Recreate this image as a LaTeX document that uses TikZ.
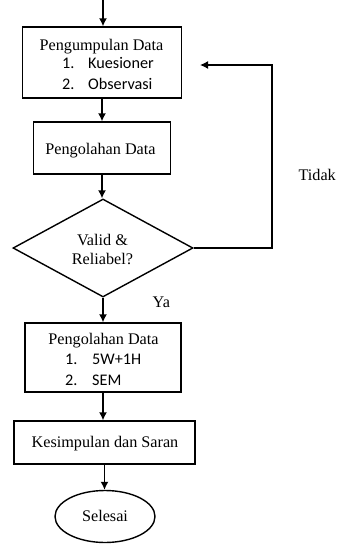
\documentclass[tikz,border=0pt]{standalone}
\usepackage{fontspec}
\setmainfont{Liberation Serif}
\newfontfamily\listfont{Carlito}
\usetikzlibrary{shapes.geometric,arrows.meta}

\begin{document}
\begin{tikzpicture}[x=1pt,y=-1pt,
		every node/.style={font=\fontsize{16.2}{19}\selectfont},
		kotak/.style={draw,line width=1.4pt,inner sep=0pt},
		teks/.style={inner sep=0pt,anchor=base},
		daftar/.style={inner sep=0pt,anchor=base west,font=\fontsize{16.2}{19}\selectfont\listfont},
		panah/.style={line width=1.4pt,-{Latex[length=8pt,width=8pt]}}]
				\useasboundingbox (0,0) rectangle (337,544);

				% kotak-kotak alur
				\node [kotak,minimum width=159pt,minimum height=71pt] (kumpul) at (102,62.5) {};
				\node [kotak,minimum width=137pt,minimum height=52pt] (olah) at (102,148) {};
				\node [kotak,diamond,aspect=1.84,minimum width=180pt,minimum height=98pt] (uji) at (103,248) {};
				\node [kotak,minimum width=156pt,minimum height=69pt] (olahdua) at (103,357.5) {};
				\node [kotak,minimum width=181pt,minimum height=43pt] (simpul) at (104.5,442.5) {};
				\node [kotak,ellipse,minimum width=100pt,minimum height=52pt] (selesai) at (105,516.5) {};

				% teks
				\node [teks] (tkumpul) at (101.5,50) {Pengumpulan Data};
				\node [teks] (tolah) at (100.5,154) {Pengolahan Data};
				\node [teks] (tvalid) at (102.5,245) {Valid \&};
				\node [teks] (treliabel) at (102.5,264) {Reliabel?};
				\node [teks] (tolahdua) at (103.5,344) {Pengolahan Data};
				\node [teks] (tsimpul) at (105,447) {Kesimpulan dan Saran};
				\node [teks] (tselesai) at (105,521.5) {Selesai};
				\node [inner sep=0pt,anchor=base west] (ya) at (152.5,307.5) {Ya};
				\node [inner sep=0pt,anchor=base east] (tidak) at (336,180) {Tidak};

				\foreach \n/\y/\isi in {1/68.5/Kuesioner, 2/89.5/Observasi}
				{
					\node [daftar] (no\n) at (62,\y) {\n.};
					\node [daftar] (isi\n) at (88,\y) {\isi};
				}
				\foreach \n/\y/\isi in {1/364.5/5W+1H, 2/385.5/SEM}
				{
					\node [daftar] (nob\n) at (65,\y) {\n.};
					\node [daftar] (isib\n) at (92,\y) {\isi};
				}

				% panah
				\coordinate (mulai) at (103,0);
				\coordinate (belok) at (272,248);
				\coordinate (balik) at (200,65);
				\draw [panah] (mulai) -- (mulai |- kumpul.north);
				\draw [panah] (kumpul.south) -- (olah.north);
				\draw [panah] (olah.south) -- (olah.south |- uji.north);
				\draw [panah] (uji.south) -- (olahdua.north);
				\draw [panah] (olahdua.south) -- (olahdua.south |- simpul.north);
				\draw [panah] (simpul.south) -- (simpul.south |- selesai.north);
				\draw [panah] (uji.east) -- (belok) |- (balik);
		\end{tikzpicture}
\end{document}
